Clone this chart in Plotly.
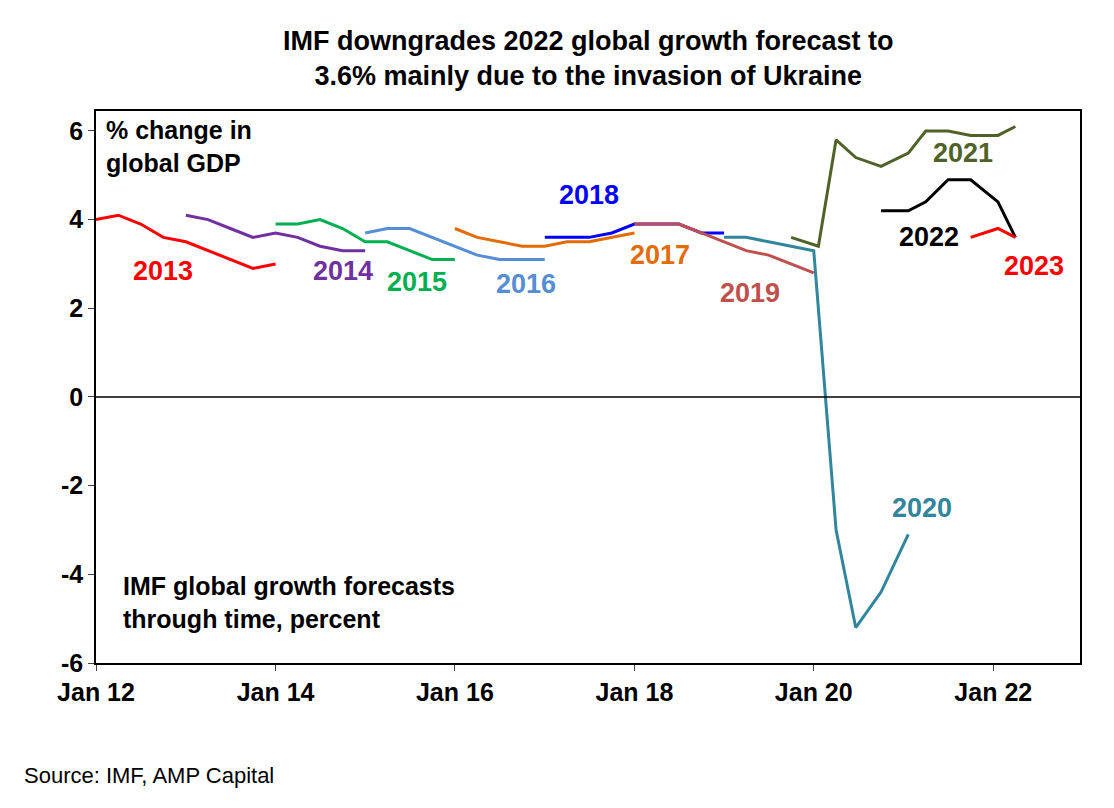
import plotly.graph_objects as go

# IMF WEO release dates (Jan/Apr/Jul/Oct) and forecasts for each target year
s2013_x = ['2012-01-01', '2012-04-01', '2012-07-01', '2012-10-01', '2013-01-01', '2013-04-01', '2013-07-01', '2013-10-01', '2014-01-01']
s2013_y = [4.0, 4.1, 3.9, 3.6, 3.5, 3.3, 3.1, 2.9, 3.0]
s2014_x = ['2013-01-01', '2013-04-01', '2013-07-01', '2013-10-01', '2014-01-01', '2014-04-01', '2014-07-01', '2014-10-01', '2015-01-01']
s2014_y = [4.1, 4.0, 3.8, 3.6, 3.7, 3.6, 3.4, 3.3, 3.3]
s2015_x = ['2014-01-01', '2014-04-01', '2014-07-01', '2014-10-01', '2015-01-01', '2015-04-01', '2015-07-01', '2015-10-01', '2016-01-01']
s2015_y = [3.9, 3.9, 4.0, 3.8, 3.5, 3.5, 3.3, 3.1, 3.1]
s2016_x = ['2015-01-01', '2015-04-01', '2015-07-01', '2015-10-01', '2016-01-01', '2016-04-01', '2016-07-01', '2016-10-01', '2017-01-01']
s2016_y = [3.7, 3.8, 3.8, 3.6, 3.4, 3.2, 3.1, 3.1, 3.1]
s2017_x = ['2016-01-01', '2016-04-01', '2016-07-01', '2016-10-01', '2017-01-01', '2017-04-01', '2017-07-01', '2017-10-01', '2018-01-01']
s2017_y = [3.8, 3.6, 3.5, 3.4, 3.4, 3.5, 3.5, 3.6, 3.7]
s2018_x = ['2017-01-01', '2017-04-01', '2017-07-01', '2017-10-01', '2018-01-01', '2018-04-01', '2018-07-01', '2018-10-01', '2019-01-01']
s2018_y = [3.6, 3.6, 3.6, 3.7, 3.9, 3.9, 3.9, 3.7, 3.7]
s2019_x = ['2018-01-01', '2018-04-01', '2018-07-01', '2018-10-01', '2019-01-01', '2019-04-01', '2019-07-01', '2019-10-01', '2020-01-01']
s2019_y = [3.9, 3.9, 3.9, 3.7, 3.5, 3.3, 3.2, 3.0, 2.8]
s2020_x = ['2019-01-01', '2019-04-01', '2019-07-01', '2019-10-01', '2020-01-01', '2020-04-01', '2020-06-20', '2020-10-01', '2021-01-20']
s2020_y = [3.6, 3.6, 3.5, 3.4, 3.3, -3.0, -5.2, -4.4, -3.1]
s2021_x = ['2019-10-01', '2020-01-20', '2020-04-01', '2020-06-20', '2020-10-01', '2021-01-20', '2021-04-01', '2021-07-01', '2021-10-01', '2022-01-20', '2022-04-01']
s2021_y = [3.6, 3.4, 5.8, 5.4, 5.2, 5.5, 6.0, 6.0, 5.9, 5.9, 6.1]
s2022_x = ['2020-10-01', '2021-01-20', '2021-04-01', '2021-07-01', '2021-10-01', '2022-01-20', '2022-04-01']
s2022_y = [4.2, 4.2, 4.4, 4.9, 4.9, 4.4, 3.6]
s2023_x = ['2021-10-01', '2022-01-20', '2022-04-01']
s2023_y = [3.6, 3.8, 3.6]

tick_vals = ['2012-01-01', '2014-01-01', '2016-01-01', '2018-01-01', '2020-01-01', '2022-01-01']
tick_text = ['Jan 12', 'Jan 14', 'Jan 16', 'Jan 18', 'Jan 20', 'Jan 22']
y_vals = [-6, -4, -2, 0, 2, 4, 6]
y_text = ['-6', '-4', '-2', '0', '2', '4', '6']

series = [
    ('2013', s2013_x, s2013_y, '#ff0000', '2012-10-01', 2.85),
    ('2014', s2014_x, s2014_y, '#7030a0', '2014-10-01', 2.85),
    ('2015', s2015_x, s2015_y, '#00b050', '2015-08-01', 2.6),
    ('2016', s2016_x, s2016_y, '#558ed5', '2016-10-15', 2.55),
    ('2017', s2017_x, s2017_y, '#e36c09', '2018-04-15', 3.2),
    ('2018', s2018_x, s2018_y, '#0000ff', '2017-07-01', 4.55),
    ('2019', s2019_x, s2019_y, '#c0504d', '2019-04-15', 2.35),
    ('2020', s2020_x, s2020_y, '#31859c', '2021-03-15', -2.5),
    ('2021', s2021_x, s2021_y, '#4f6228', '2021-09-01', 5.5),
    ('2022', s2022_x, s2022_y, '#000000', '2021-04-15', 3.6),
    ('2023', s2023_x, s2023_y, '#ff0000', '2022-06-15', 2.95),
]

fig = go.Figure()
for name, xs, ys, col, lx, ly in series:
    fig.add_trace(go.Scatter(x=xs, y=ys, mode='lines', line=dict(color=col, width=3), showlegend=False))
    fig.add_annotation(x=lx, y=ly, text=name, showarrow=False, font=dict(size=27, color=col))

fig.add_hline(y=0, line=dict(color='black', width=1.5))

fig.add_annotation(xref='paper', yref='paper', x=0.5, y=1, yshift=18, xanchor='center', yanchor='bottom',
                   text='IMF downgrades 2022 global growth forecast to<br>3.6% mainly due to the invasion of Ukraine',
                   showarrow=False, font=dict(size=27, color='black'))
fig.add_annotation(xref='paper', yref='paper', x=0.008, y=0.995, xanchor='left', yanchor='top', align='left',
                   text='% change in<br>global GDP', showarrow=False, font=dict(size=25, color='black'))
fig.add_annotation(xref='paper', yref='paper', x=0.025, y=0.05, xanchor='left', yanchor='bottom', align='left',
                   text='IMF global growth forecasts<br>through time, percent', showarrow=False, font=dict(size=25, color='black'))
fig.add_annotation(xref='paper', yref='paper', x=-0.075, y=-0.23, xanchor='left', yanchor='bottom',
                   text='<span style="font-weight:normal">Source: IMF, AMP Capital</span>', showarrow=False,
                   font=dict(size=22, color='black'))

fig.update_layout(
    width=1114, height=808,
    margin=dict(l=88, r=42, t=103, b=153),
    paper_bgcolor='white', plot_bgcolor='white',
    font=dict(family='Liberation Sans, Arial', size=25, color='black', weight='bold'),
    xaxis=dict(range=['2012-01-01', '2022-12-20'], tickvals=tick_vals, ticktext=tick_text,
               showgrid=False, showline=True, linecolor='black', linewidth=1.5, mirror=True,
               ticks='outside', ticklen=6, zeroline=False),
    yaxis=dict(range=[-6, 6.45], tickvals=y_vals, ticktext=y_text, showgrid=False,
               showline=True, linecolor='black', linewidth=1.5, mirror=True,
               ticks='outside', ticklen=6, zeroline=False),
)

fig.write_html('out.html')
